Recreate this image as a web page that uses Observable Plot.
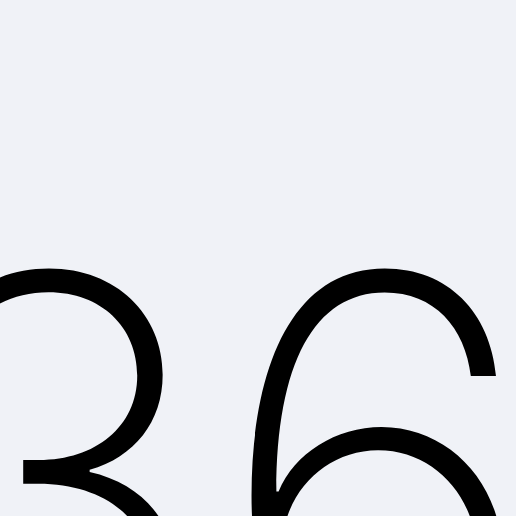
<!DOCTYPE html>
<html><head>
<script src="https://cdn.jsdelivr.net/npm/d3@7"></script>
<script src="https://cdn.jsdelivr.net/npm/@observablehq/plot@0.6"></script>
<style>body{margin:0;background:#f0f2f7;overflow:hidden}</style>
</head><body>
<div id="c"></div>
<script>
const labels = ["36"];
const xs = [0.5];
const ys = [0];
const data = labels.map((t,i)=>({t, x: xs[i], y: ys[i]}));
const chart = Plot.plot({
  width: 516, height: 516, margin: 0,
  style: {background: "#f0f2f7"},
  x: {domain: [0,1], axis: null},
  y: {domain: [0,1], axis: null},
  marks: [
    Plot.text(data, {x: "x", y: "y", text: "t", fontSize: 560, fontFamily: "Inter", fontWeight: 200, fill: "black", lineAnchor: "bottom", dy: 165, dx: -48})
  ]
});
document.getElementById("c").appendChild(chart);
</script>
</body></html>
